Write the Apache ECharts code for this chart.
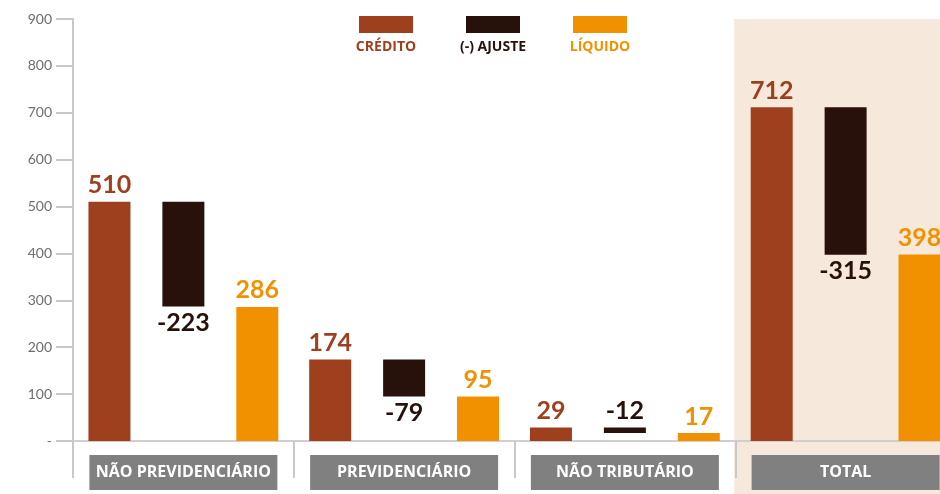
<!DOCTYPE html>
<html>
<head>
<meta charset="utf-8">
<script src="https://cdn.jsdelivr.net/npm/echarts@6/dist/echarts.min.js"></script>
<style>
  html, body { margin: 0; padding: 0; background: #fff; }
  #chart { width: 940px; height: 494px; }
</style>
</head>
<body>
<div id="chart"></div>
<script>
const categories = ['NÃO PREVIDENCIÁRIO', 'PREVIDENCIÁRIO', 'NÃO TRIBUTÁRIO', 'TOTAL'];
const credito = [510, 174, 29, 712];
const ajuste = [-223, -79, -12, -315];
const liquido = [286, 95, 17, 398];
const legendNames = ['CRÉDITO', '(-) AJUSTE', 'LÍQUIDO'];

const colorCredito = '#9E3F1E';
const colorAjuste = '#27110A';
const colorLiquido = '#F29100';
const font = 'Lato';

// base invisivel + parte visivel do ajuste (barra flutuante)
const ajusteBase = credito.map((c, i) => c + ajuste[i]);
// barra muito baixa: rotulo vai acima
const ajusteVisivel = ajuste.map((v, i) => (-v < 20 ? { value: -v, label: { position: 'top' } } : -v));

const valueLabel = (color, pos) => ({
  show: true,
  position: pos,
  distance: 4,
  color: color,
  fontFamily: font,
  fontWeight: 'bold',
  fontSize: 25
});

const chart = echarts.init(document.getElementById('chart'));

const option = {
  animation: false,
  grid: { left: 73, right: -16, top: 19, bottom: 53, outerBoundsMode: 'none', containLabel: false },
  xAxis: {
    type: 'category',
    data: categories,
    axisLine: { lineStyle: { color: '#cfcfcf', width: 2 } },
    axisTick: { show: true, interval: 0, length: 37, lineStyle: { color: '#c8c8c8', width: 2 } },
    axisLabel: {
      interval: 0,
      margin: 14,
      color: '#fff',
      backgroundColor: '#808080',
      fontFamily: 'Open Sans',
      fontWeight: 'bold',
      fontSize: 16,
      width: 188,
      height: 35,
      lineHeight: 35,
      align: 'center'
    }
  },
  yAxis: {
    type: 'value',
    min: 0,
    max: 900,
    interval: 100,
    splitLine: { show: false },
    axisLine: { show: true, lineStyle: { color: '#c8c8c8', width: 2 } },
    axisTick: { show: true, length: 17, lineStyle: { color: '#c8c8c8', width: 2 } },
    axisLabel: {
      margin: 21,
      color: '#6e6e6e',
      fontFamily: font,
      fontSize: 14,
      formatter: v => (v === 0 ? '-' : v)
    }
  },
  series: [
    {
      name: 'CRÉDITO',
      type: 'bar',
      data: credito,
      barWidth: 42,
      barGap: '76%',
      itemStyle: { color: colorCredito },
      label: valueLabel(colorCredito, 'top')
    },
    {
      name: 'base',
      type: 'bar',
      stack: 'ajuste',
      data: ajusteBase,
      barWidth: 42,
      itemStyle: { color: 'transparent' },
      emphasis: { disabled: true },
      silent: true
    },
    {
      name: '(-) AJUSTE',
      type: 'bar',
      stack: 'ajuste',
      data: ajusteVisivel,
      barWidth: 42,
      itemStyle: { color: colorAjuste },
      label: Object.assign(valueLabel(colorAjuste, 'bottom'), {
        formatter: p => ajuste[p.dataIndex]
      })
    },
    {
      name: 'LÍQUIDO',
      type: 'bar',
      data: liquido,
      barWidth: 42,
      itemStyle: { color: colorLiquido },
      label: valueLabel(colorLiquido, 'top')
    }
  ]
};

chart.setOption(option);

// fundo bege da coluna TOTAL + legenda
const xTot = chart.convertToPixel({ xAxisIndex: 0 }, 'TOTAL');
const xPrev = chart.convertToPixel({ xAxisIndex: 0 }, 'NÃO TRIBUTÁRIO');
const yTop = chart.convertToPixel({ yAxisIndex: 0 }, 900);
const bandLeft = xTot - (xTot - xPrev) / 2;

const legendColors = [colorCredito, colorAjuste, colorLiquido];
const legendCenters = [386, 493, 600];
const legendGraphics = [];
legendNames.forEach((n, i) => {
  legendGraphics.push({
    type: 'rect',
    shape: { x: legendCenters[i] - 27, y: 16, width: 54, height: 17 },
    style: { fill: legendColors[i] }
  });
  legendGraphics.push({
    type: 'text',
    x: legendCenters[i],
    y: 47,
    style: {
      text: n,
      fill: legendColors[i],
      font: 'bold 14px "Open Sans"',
      textAlign: 'center',
      textVerticalAlign: 'middle'
    }
  });
});

chart.setOption({
  graphic: [
    {
      type: 'rect',
      z: -10,
      shape: { x: bandLeft - 1, y: yTop, width: 940 - bandLeft + 1, height: 494 - yTop },
      style: { fill: '#F6E9DB' }
    }
  ].concat(legendGraphics)
});
</script>
</body>
</html>
